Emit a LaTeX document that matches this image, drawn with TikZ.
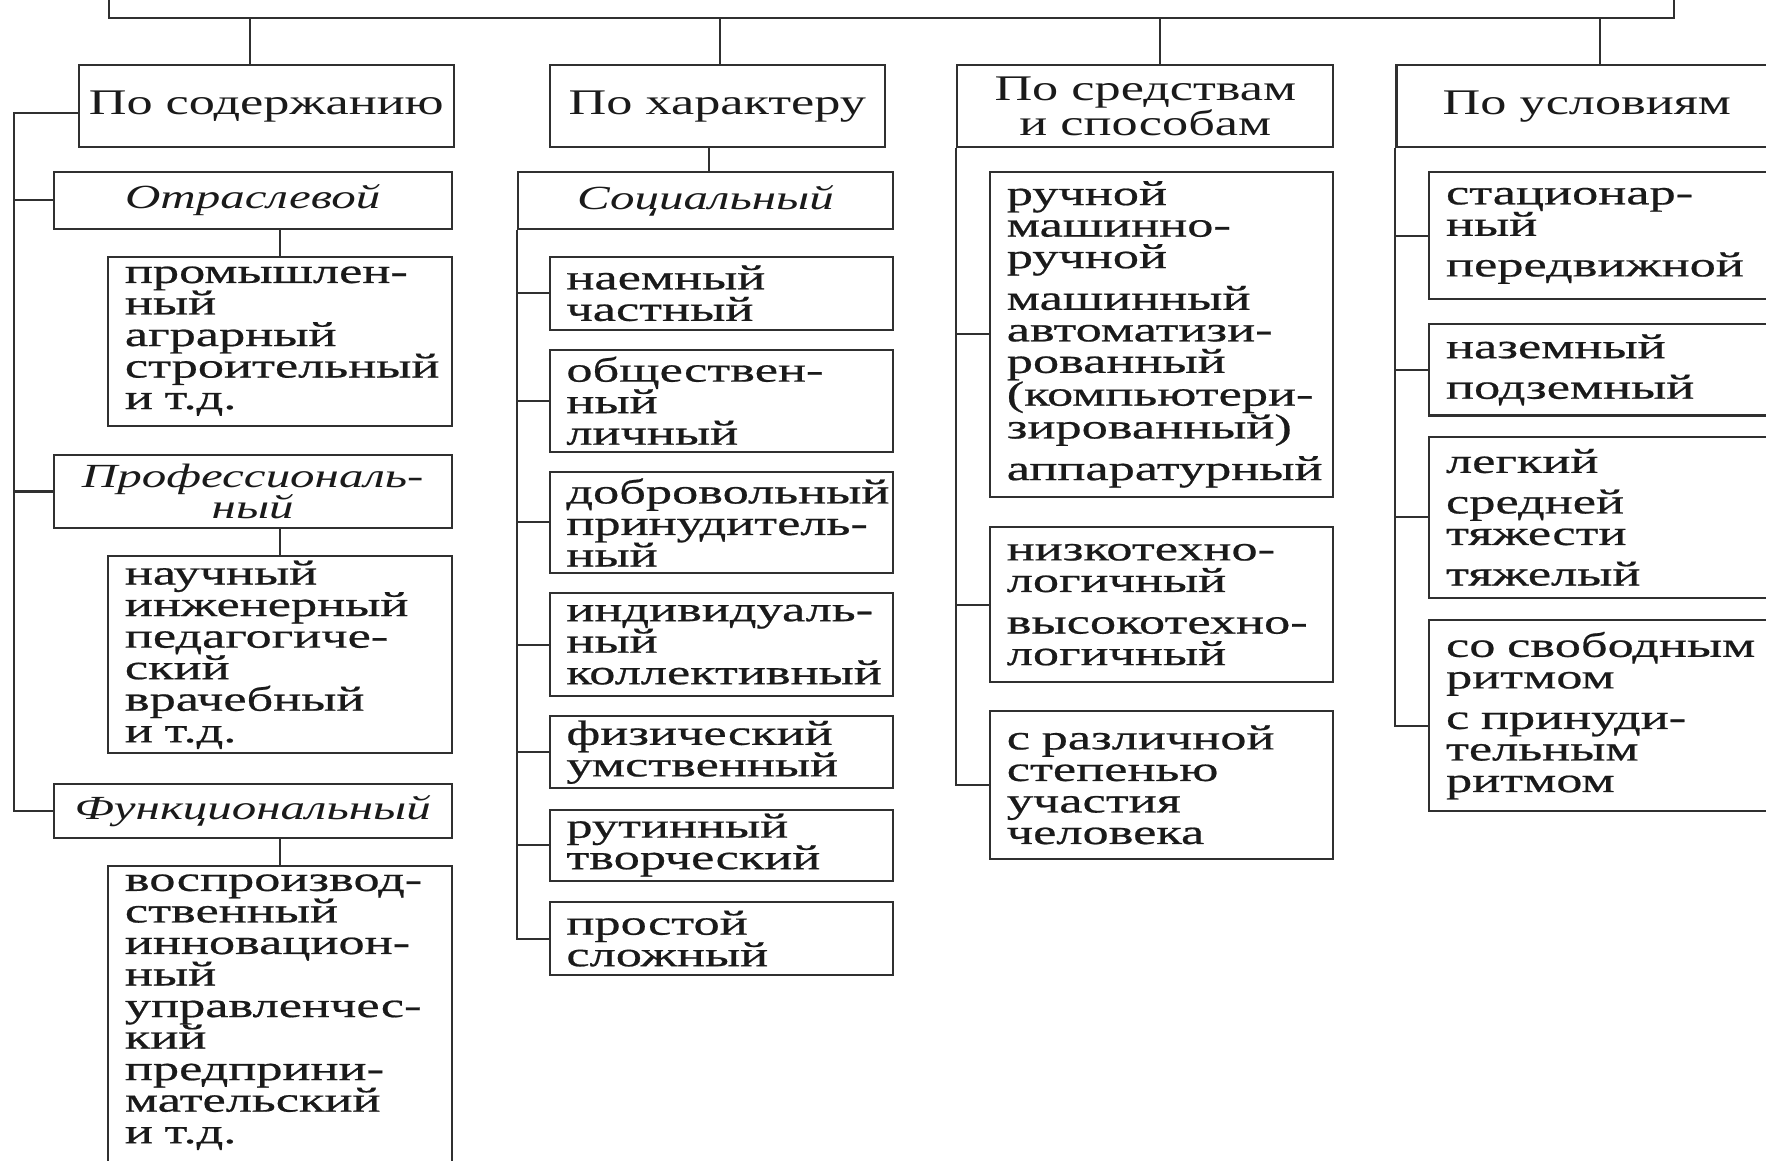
\documentclass[tikz,border=0pt]{standalone}
\usepackage{fontspec}
\setmainfont{Liberation Serif}[FakeStretch=1.45]
\newfontfamily\bodyfont{Liberation Serif}[FakeStretch=1.5,FakeBold=0.6]
\definecolor{linec}{HTML}{303030}
\definecolor{txtc}{HTML}{1A1A1A}
\hyphenpenalty=10000 \exhyphenpenalty=10000 \hbadness=10000 \hfuzz=300pt \vbadness=10000
\tikzset{
  bx/.style={draw=linec, line width=1.8pt, anchor=north west, inner sep=0pt, text=txtc},
  lvl/.style={bx, font=\fontsize{32}{27}\selectfont, align=center},
  cat/.style={bx, font=\fontsize{30}{28}\selectfont\itshape, align=center},
  item/.style={bx, font=\bodyfont\fontsize{31}{28}\selectfont, align=left, inner xsep=15pt, text width=275pt, minimum width=305pt},
  itemw/.style={bx, font=\bodyfont\fontsize{31}{28}\selectfont, align=left, inner xsep=15pt, text width=292pt, minimum width=322pt},
  link/.style={draw=linec, line width=1.8pt}
}
\begin{document}
\begin{tikzpicture}[x=1pt,y=-1pt]
\useasboundingbox (0,0) rectangle (1568,1030);
\clip (0,0) rectangle (1568,1030);
\fill[white] (0,0) rectangle (1568,1030);

% top box (cut off by the top edge)
\node[bx, minimum width=1389pt, minimum height=80pt] (root) at (96,-65) {};

% level 1
\node[lvl, minimum width=333pt, minimum height=73pt] (b1) at (69,57) {По содержанию};
\node[lvl, minimum width=298pt, minimum height=73pt] (b2) at (487,57) {По характеру};
\node[lvl, minimum width=334pt, minimum height=73pt] (b3) at (849,57) {По средствам\\и способам};
\node[lvl, minimum width=338pt, minimum height=73pt] (b4) at (1239,57) {По условиям};

% column 1
\node[cat, minimum width=353pt, minimum height=50pt] (o1) at (47,152) {Отраслевой};
\node[item, minimum height=150pt] (p1) at (95,227) {промышлен-\\ный\\аграрный\\строительный\\и т.д.};
\node[cat, minimum width=353pt, minimum height=65pt] (o2) at (47,403) {Профессиональ-\\ный};
\node[item, minimum height=175pt] (p2) at (95,493) {научный\\инженерный\\педагогиче-\\ский\\врачебный\\и т.д.};
\node[cat, minimum width=353pt, minimum height=48pt] (o3) at (47,695) {Функциональный};
\node[item, minimum height=290pt] (p3) at (95,768) {воспроизвод-\\ственный\\инновацион-\\ный\\управленчес-\\кий\\предприни-\\мательский\\и т.д.\\ \strut};

% column 2
\node[cat, minimum width=333pt, minimum height=50pt] (s1) at (459,152) {Социальный};
\node[item, minimum height=65pt] (q1) at (487,227) {наемный\\частный};
\node[item, minimum height=90pt] (q2) at (487,310) {обществен-\\ный\\личный};
\node[item, minimum height=90pt] (q3) at (487,418) {добровольный\\принудитель-\\ный};
\node[item, minimum height=91pt] (q4) at (487,526) {индивидуаль-\\ный\\коллективный};
\node[item, minimum height=64pt] (q5) at (487,635) {физический\\умственный};
\node[item, minimum height=63pt] (q6) at (487,718) {рутинный\\творческий};
\node[item, minimum height=65pt] (q7) at (487,800) {простой\\сложный};

% column 3
\node[item, minimum height=288pt] (r1) at (878,152) {ручной\\машинно-\\ручной\\[9pt]машинный\\автоматизи-\\рованный\\(компьютери-\\зированный)\\[9pt]аппаратурный};
\node[item, minimum height=138pt] (r2) at (878,467) {низкотехно-\\логичный\\[9pt]высокотехно-\\логичный};
\node[item, minimum height=132pt] (r3) at (878,630) {с различной\\степенью\\участия\\человека};

% column 4
\node[itemw, minimum height=113pt] (t1) at (1268,152) {стационар-\\ный\\[8pt]передвижной};
\node[itemw, minimum height=81pt] (t2) at (1268,287) {наземный\\[8pt]подземный};
\node[itemw, minimum height=143pt] (t3) at (1268,387) {легкий\\[8pt]средней\\тяжести\\[8pt]тяжелый};
\node[itemw, minimum height=169pt] (t4) at (1268,550) {со свободным\\ритмом\\[8pt]с принуди-\\тельным\\ритмом};

% connector positions
\coordinate (cx1) at (222,0);
\coordinate (cx2) at (639,0);
\coordinate (cx3) at (1030,0);
\coordinate (cx4) at (1421,0);
\coordinate (sp1) at (12,0);
\coordinate (s1top) at ([xshift=3pt]s1.north);
\coordinate (b1br) at ([yshift=-5.5pt]b1.west);
\coordinate (t4br) at ([yshift=-9.5pt]t4.west);

% top connectors
\draw[link] (root.south -| cx1) -- (b1.north -| cx1);
\draw[link] (root.south -| cx2) -- (b2.north -| cx2);
\draw[link] (root.south -| cx3) -- (b3.north -| cx3);
\draw[link] (root.south -| cx4) -- (b4.north -| cx4);

% column 1 connectors
\draw[link] (b1br) -| (sp1 |- o3.west) -- (o3.west);
\draw[link] (o1.west) -- (o1.west -| sp1);
\draw[link] (o2.west) -- (o2.west -| sp1);
\draw[link] (o1.south -| p1.north) -- (p1.north);
\draw[link] (o2.south -| p2.north) -- (p2.north);
\draw[link] (o3.south -| p3.north) -- (p3.north);

% column 2 connectors
\draw[link] (b2.south -| s1top) -- (s1top);
\draw[link] (s1.south west) |- (q7.west);
\foreach \n in {q1,q2,q3,q4,q5,q6} {\draw[link] (\n.west) -- (\n.west -| s1.south west);}

% column 3 connectors
\draw[link] (b3.south west) |- (r3.west);
\draw[link] (r1.west) -- (r1.west -| b3.south west);
\draw[link] (r2.west) -- (r2.west -| b3.south west);

% column 4 connectors
\draw[link] (b4.south west) |- (t4br);
\foreach \n in {t1,t2,t3} {\draw[link] (\n.west) -- (\n.west -| b4.south west);}
\end{tikzpicture}
\end{document}
